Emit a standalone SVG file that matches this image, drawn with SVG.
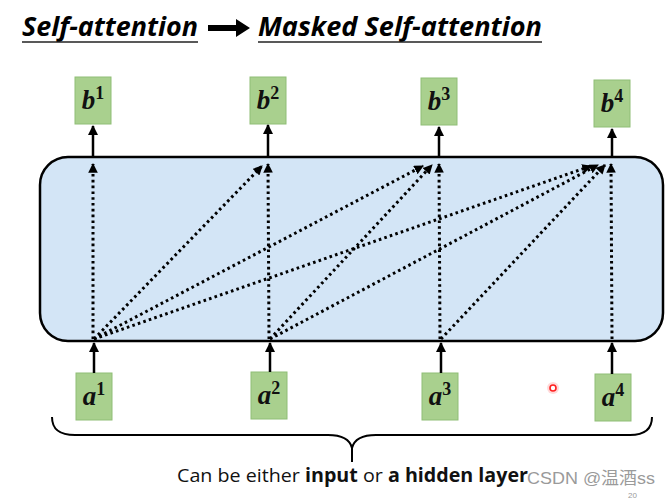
<svg xmlns="http://www.w3.org/2000/svg" width="671" height="500" viewBox="0 0 671 500">
<style>
.title{font-family:"Open Sans","Liberation Sans",sans-serif;font-weight:bold;font-style:italic;font-size:27px;fill:#000}
.box{fill:#a9d08e;stroke:#8fbe76;stroke-width:1}
.lbl{font-family:"Liberation Serif","DejaVu Serif",serif;font-weight:bold;font-style:italic;font-size:27px;fill:#111}
.sup{font-style:normal;font-size:18px}
.solid{stroke:#000;stroke-width:2.5;fill:none}
.dot{stroke:#000;stroke-width:3;fill:none;stroke-dasharray:2.6 3.2}
.cap{font-family:"Open Sans","Liberation Sans",sans-serif;font-size:19px;fill:#111}
</style>
<defs>
<marker id="ah" viewBox="0 0 10 10" refX="9" refY="5" markerWidth="3.2" markerHeight="3.2" orient="auto" markerUnits="strokeWidth">
<path d="M0,0 L10,5 L0,10 z" fill="#000"/>
</marker>
<marker id="ahs" viewBox="0 0 10 10" refX="9" refY="5" markerWidth="4" markerHeight="4" orient="auto" markerUnits="strokeWidth">
<path d="M0,0 L10,5 L0,10 z" fill="#000"/>
</marker>
<linearGradient id="g" x1="0" y1="0" x2="0" y2="1">
<stop offset="0" stop-color="#b4d69e"/>
<stop offset="1" stop-color="#98c67f"/>
</linearGradient>
</defs>
<rect width="671" height="500" fill="#fff"/>
<g id="title">
<text class="title" x="22" y="36" textLength="176" lengthAdjust="spacingAndGlyphs">Self-attention</text>
<line x1="22" y1="42" x2="198" y2="42" stroke="#222" stroke-width="1.5"/>
<path d="M208,25 L236,25 L236,19 L250,28 L236,37 L236,31 L208,31 z" fill="#000"/>
<text class="title" x="258" y="36" textLength="284" lengthAdjust="spacingAndGlyphs">Masked Self-attention</text>
<line x1="258" y1="42" x2="542" y2="42" stroke="#222" stroke-width="1.5"/>
</g>
<g id="layer">
<rect x="40" y="157" width="623" height="184" rx="28" fill="#d3e5f6" stroke="#000" stroke-width="2.5"/>
</g>
<g id="b1"><rect class="box" x="75" y="77" width="36" height="47" fill="url(#g)"/><text class="lbl" x="93" y="109" text-anchor="middle">b<tspan class="sup" dy="-10">1</tspan></text></g>
<g id="b2"><rect class="box" x="250" y="77" width="36" height="47" fill="url(#g)"/><text class="lbl" x="268" y="109" text-anchor="middle">b<tspan class="sup" dy="-10">2</tspan></text></g>
<g id="b3"><rect class="box" x="421" y="78" width="36" height="47" fill="url(#g)"/><text class="lbl" x="439" y="110" text-anchor="middle">b<tspan class="sup" dy="-10">3</tspan></text></g>
<g id="b4"><rect class="box" x="594" y="80" width="36" height="47" fill="url(#g)"/><text class="lbl" x="612" y="112" text-anchor="middle">b<tspan class="sup" dy="-10">4</tspan></text></g>
<g id="a1"><rect class="box" x="76" y="373" width="36" height="47" fill="url(#g)"/><text class="lbl" x="94" y="405" text-anchor="middle">a<tspan class="sup" dy="-10">1</tspan></text></g>
<g id="a2"><rect class="box" x="251" y="372" width="36" height="47" fill="url(#g)"/><text class="lbl" x="269" y="404" text-anchor="middle">a<tspan class="sup" dy="-10">2</tspan></text></g>
<g id="a3"><rect class="box" x="422" y="373" width="36" height="47" fill="url(#g)"/><text class="lbl" x="440" y="405" text-anchor="middle">a<tspan class="sup" dy="-10">3</tspan></text></g>
<g id="a4"><rect class="box" x="595" y="374" width="36" height="47" fill="url(#g)"/><text class="lbl" x="613" y="406" text-anchor="middle">a<tspan class="sup" dy="-10">4</tspan></text></g>
<g id="connectors">
<line class="solid" x1="93" y1="157" x2="93" y2="126" marker-end="url(#ahs)"/>
<line class="solid" x1="268" y1="157" x2="268" y2="125" marker-end="url(#ahs)"/>
<line class="solid" x1="439" y1="157" x2="439" y2="127" marker-end="url(#ahs)"/>
<line class="solid" x1="612" y1="157" x2="612" y2="129" marker-end="url(#ahs)"/>
<line class="solid" x1="94" y1="373" x2="94" y2="343" marker-end="url(#ahs)"/>
<line class="solid" x1="270" y1="372" x2="270" y2="343" marker-end="url(#ahs)"/>
<line class="solid" x1="441" y1="373" x2="441" y2="343" marker-end="url(#ahs)"/>
<line class="solid" x1="612" y1="374" x2="612" y2="343" marker-end="url(#ahs)"/>
<line class="dot" x1="93" y1="339" x2="93" y2="164" marker-end="url(#ah)"/>
<line class="dot" x1="94" y1="339" x2="262" y2="166" marker-end="url(#ah)"/>
<line class="dot" x1="94" y1="339" x2="423" y2="166" marker-end="url(#ah)"/>
<line class="dot" x1="94" y1="339" x2="591" y2="166" marker-end="url(#ah)"/>
<line class="dot" x1="269" y1="339" x2="268" y2="164" marker-end="url(#ah)"/>
<line class="dot" x1="270" y1="339" x2="432" y2="165" marker-end="url(#ah)"/>
<line class="dot" x1="270" y1="339" x2="598" y2="165" marker-end="url(#ah)"/>
<line class="dot" x1="440" y1="339" x2="439" y2="164" marker-end="url(#ah)"/>
<line class="dot" x1="441" y1="339" x2="605" y2="165" marker-end="url(#ah)"/>
<line class="dot" x1="612" y1="339" x2="611" y2="164" marker-end="url(#ah)"/>
</g>
<g id="brace">
<path d="M52,417 C52,430 60,435 75,435 L328,435 C342,435 350,440 352,448 C354,440 362,435 376,435 L630,435 C644,435 652,430 652,417 M352,447 L352,462" fill="none" stroke="#000" stroke-width="2"/>
</g>
<text class="cap" x="177" y="482" textLength="351" lengthAdjust="spacingAndGlyphs">Can be either <tspan font-weight="bold">input</tspan> or <tspan font-weight="bold">a hidden layer</tspan></text>
<text x="527" y="484" font-family="'Liberation Sans','Noto Sans CJK SC',sans-serif" font-size="17" fill="#9a9a9a" textLength="128" lengthAdjust="spacingAndGlyphs">CSDN @温酒ss</text>
<text x="628" y="498" font-family="'Liberation Sans',sans-serif" font-size="8" fill="#9a9a9a">20</text>
<circle cx="553" cy="388" r="6" fill="#ff0000" fill-opacity="0.15"/>
<circle cx="553" cy="388" r="3" fill="#fff" stroke="#ff2020" stroke-width="1.6"/>
</svg>
